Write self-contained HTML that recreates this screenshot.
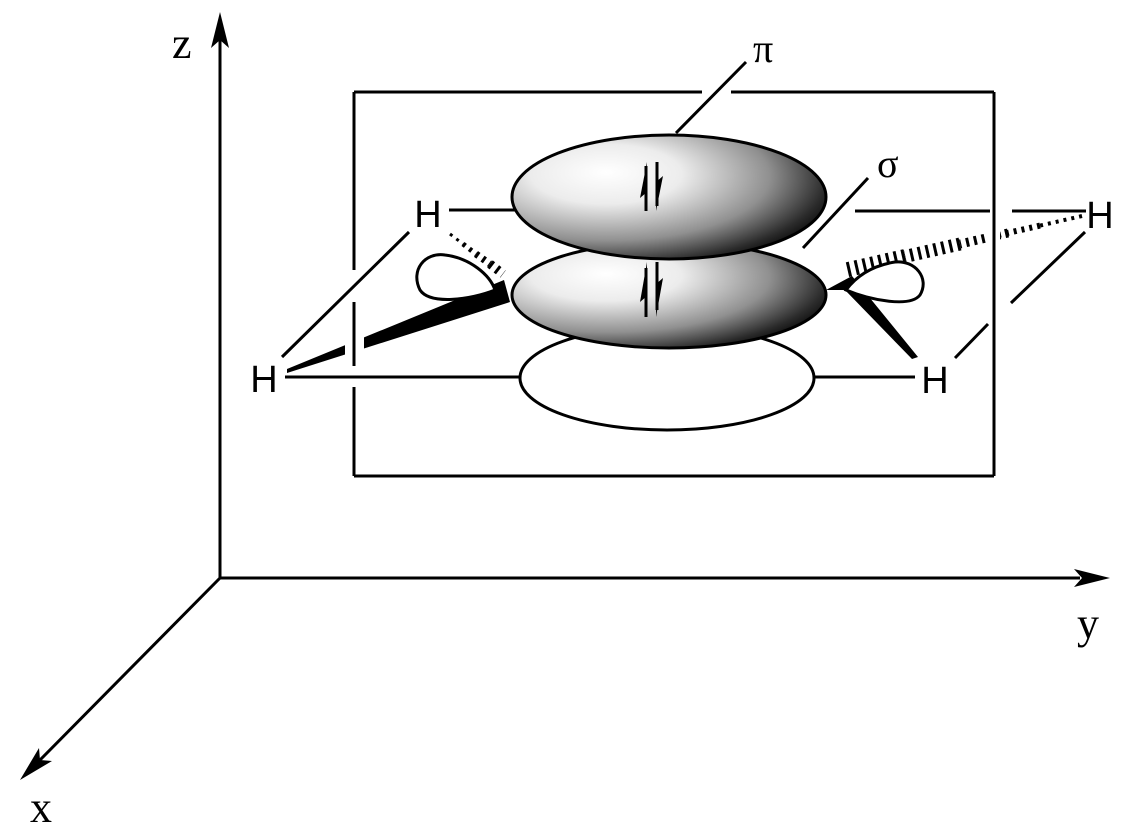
<!DOCTYPE html>
<html><head><style>html,body{margin:0;padding:0;background:#fff;width:1126px;height:840px;overflow:hidden}</style></head>
<body>
<svg width="1126" height="840" viewBox="0 0 1126 840" xmlns="http://www.w3.org/2000/svg">
<defs>
<radialGradient id="g" cx="0.3" cy="0.35" r="0.8" fx="0.3" fy="0.3">
<stop offset="0" stop-color="#fff"/>
<stop offset="0.3" stop-color="#ececec"/>
<stop offset="0.65" stop-color="#909090"/>
<stop offset="0.88" stop-color="#2a2a2a"/>
<stop offset="1" stop-color="#000"/>
</radialGradient>
</defs>
<g stroke="#000" stroke-width="3" fill="none">
<line x1="220" y1="40" x2="220" y2="578"/>
<line x1="220" y1="578" x2="1080" y2="578"/>
<line x1="220" y1="578" x2="38" y2="762"/>
<line x1="354" y1="92" x2="702" y2="92"/>
<line x1="731" y1="92" x2="994" y2="92"/>
<line x1="994" y1="92" x2="994" y2="476"/>
<line x1="354" y1="476" x2="994" y2="476"/>
<line x1="354" y1="92" x2="354" y2="270"/>
<line x1="354" y1="302" x2="354" y2="366"/>
<line x1="354" y1="387" x2="354" y2="476"/>
<line x1="676" y1="133" x2="746" y2="62"/>
<line x1="803" y1="248" x2="868" y2="178"/>
<line x1="449" y1="210" x2="515" y2="210"/>
<line x1="282" y1="357" x2="409" y2="232"/>
<line x1="285" y1="377" x2="525" y2="377"/>
<line x1="855" y1="211" x2="990" y2="211"/>
<line x1="1012" y1="211" x2="1086" y2="211"/>
<line x1="1085" y1="232" x2="1011" y2="303"/>
<line x1="988" y1="324" x2="955" y2="358"/>
<line x1="810" y1="377" x2="915" y2="377"/>
</g>
<g fill="#000">
<polygon points="220,12 211,48 220,40 229,48"/>
<polygon points="1110,578 1074,569 1082,578 1074,587"/>
<polygon points="20,780 39,748 40,760 52,761"/>
<polygon points="287,369 504,280 510,302 287,373"/>
<polygon points="826,290 852,276 918,357 912,359 845,290"/>
</g>
<rect x="345" y="320" width="19" height="50" fill="#fff"/>
<line x1="354" y1="302" x2="354" y2="366" stroke="#000" stroke-width="3"/>
<g stroke="#000" stroke-dasharray="3 5" fill="none">
<line x1="450" y1="234" x2="463" y2="244" stroke-width="3"/>
<line x1="463" y1="244" x2="476" y2="254" stroke-width="5"/>
<line x1="476" y1="254" x2="490" y2="264" stroke-width="7"/>
<line x1="490" y1="264" x2="503" y2="274" stroke-width="9"/>
<line x1="1082" y1="216" x2="1040" y2="225.6" stroke-width="4"/>
<line x1="1040" y1="225.6" x2="990" y2="237" stroke-width="6"/>
<line x1="1008" y1="233" x2="960" y2="244" stroke-width="9"/>
<line x1="960" y1="244" x2="905" y2="256.5" stroke-width="13"/>
<line x1="905" y1="256.5" x2="846" y2="270" stroke-width="15"/>
</g>
<rect x="988" y="220" width="12" height="30" fill="#fff"/>
<line x1="994" y1="200" x2="994" y2="260" stroke="#000" stroke-width="3"/>
<path d="M495,290 C470,300 430,305 420,290 C410,270 425,252 445,255 C470,258 490,275 495,290 Z" fill="#fff" stroke="#000" stroke-width="3"/>
<path d="M846,290 C870,300 910,308 920,295 C930,278 915,260 895,262 C870,266 855,278 846,290 Z" fill="#fff" stroke="#000" stroke-width="3"/>
<ellipse cx="667" cy="378" rx="147" ry="52" fill="#fff" stroke="#000" stroke-width="3"/>
<ellipse cx="669" cy="295" rx="157" ry="53" fill="url(#g)" stroke="#000" stroke-width="3"/>
<ellipse cx="669" cy="197" rx="157" ry="62" fill="url(#g)" stroke="#000" stroke-width="3"/>
<g fill="#000" stroke="#000" stroke-width="3">
<line x1="646" y1="211" x2="646" y2="166"/>
<line x1="657" y1="162" x2="657" y2="206"/>
<line x1="646" y1="317" x2="646" y2="268"/>
<line x1="657" y1="262" x2="657" y2="310"/>
</g>
<g fill="#000">
<polygon points="647,162 647,192 640,198"/>
<polygon points="656,211 656,182 663,176"/>
<polygon points="647,262 647,296 640,302"/>
<polygon points="656,317 656,284 663,278"/>
</g>
<g font-family="Liberation Sans, sans-serif" font-size="38" fill="#000" text-anchor="middle">
<text x="428" y="227">H</text>
<text x="264" y="392">H</text>
<text x="1100" y="228">H</text>
<text x="935" y="393">H</text>
</g>
<g font-family="Liberation Serif, DejaVu Serif, serif" fill="#000">
<text x="172" y="58" font-size="44">z</text>
<text x="1077" y="638" font-size="44">y</text>
<text x="30" y="822" font-size="44">x</text>
<text x="753" y="62" font-size="40">π</text>
<text x="877" y="177" font-size="40">σ</text>
</g>
</svg>
</body></html>
